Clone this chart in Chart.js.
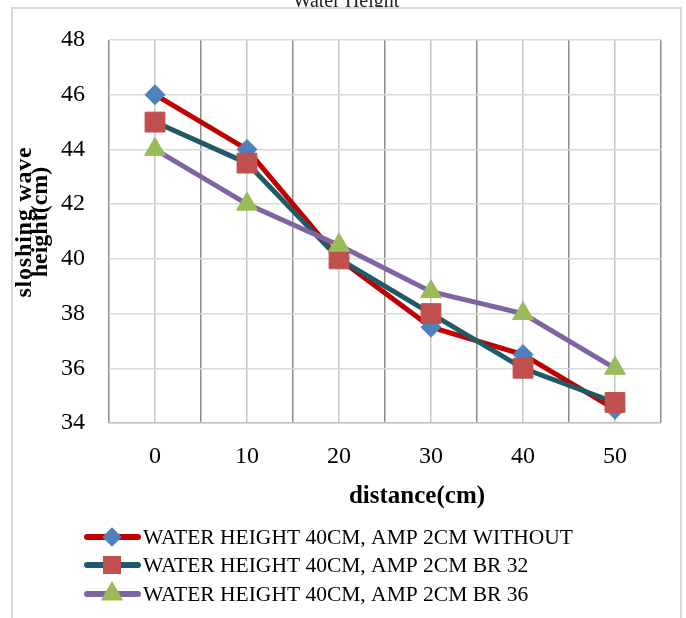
<!DOCTYPE html>
<html>
<head>
<meta charset="utf-8">
<title>Water Height</title>
<script src="https://cdn.jsdelivr.net/npm/chart.js@4.4.1/dist/chart.umd.min.js"></script>
<style>
    html, body { margin: 0; padding: 0; background: #fff; }
    canvas { display: block; }
</style>
</head>
<body>
<canvas id="sloshing-chart" width="686" height="618"></canvas>
<script>
'use strict';

// data
var distances = [ 0, 10, 20, 30, 40, 50 ];
var heightWithout = [ 46, 44, 40, 37.5, 36.5, 34.5 ];
var heightBr32 = [ 45, 43.5, 40, 38, 36, 34.75 ];
var heightBr36 = [ 44, 42, 40.5, 38.8, 38, 36 ];
var seriesLabels = [
    'WATER HEIGHT 40CM, AMP 2CM WITHOUT',
    'WATER HEIGHT 40CM, AMP 2CM BR 32',
    'WATER HEIGHT 40CM, AMP 2CM BR 36'
];
var yTicks = { min: 34, max: 48, step: 2 };

var serif = "'Liberation Serif', 'Times New Roman', serif";

function toPoints( values ) {
    var points = [];
    for( var i = 0; i < distances.length; i++ ) {
        points.push( { x: distances[ i ], y: values[ i ] } );
    }
    return points;
}

// frame, cut-off title, axis titles and the legend
var decorPlugin = {
    id: 'decor',
    beforeDraw: function( chart ) {
        var ctx = chart.ctx;
        ctx.save();
        ctx.fillStyle = '#ffffff';
        ctx.fillRect( 0, 0, chart.width, chart.height );

        // title is cut off by the top of the picture
        ctx.save();
        ctx.beginPath();
        ctx.rect( 0, 0, chart.width, 7 );
        ctx.clip();
        ctx.fillStyle = '#222';
        ctx.font = '20px ' + serif;
        ctx.textAlign = 'center';
        ctx.textBaseline = 'alphabetic';
        ctx.fillText( 'Water Height', 346, 7 );
        ctx.restore();

        // chart frame
        ctx.strokeStyle = '#d9d9d9';
        ctx.lineWidth = 2;
        ctx.strokeRect( 12, 8, 669, 700 );
        ctx.restore();
    },
    afterDraw: function( chart ) {
        var ctx = chart.ctx;
        ctx.save();
        ctx.fillStyle = '#000';

        // x axis title
        ctx.font = 'bold 25px ' + serif;
        ctx.textAlign = 'center';
        ctx.textBaseline = 'middle';
        ctx.fillText( 'distance(cm)', 417, 497 );

        // y axis title, two tight lines
        ctx.save();
        ctx.font = 'bold 24px ' + serif;
        ctx.translate( 33, 222 );
        ctx.rotate( -Math.PI / 2 );
        ctx.letterSpacing = '0.8px';
        ctx.fillText( 'sloshing wave', 0, -8 );
        ctx.letterSpacing = '0px';
        ctx.fillText( 'height(cm)', 0, 8 );
        ctx.restore();

        // legend: line with marker in the middle
        var rows = [ 537, 565, 594 ];
        ctx.font = '21.5px ' + serif;
        ctx.textAlign = 'left';
        chart.data.datasets.forEach( function( ds, i ) {
            var y = rows[ i ];
            ctx.strokeStyle = ds.borderColor;
            ctx.lineWidth = 6;
            ctx.lineCap = 'round';
            ctx.beginPath();
            ctx.moveTo( 87, y );
            ctx.lineTo( 138, y );
            ctx.stroke();
            ctx.fillStyle = ds.pointBackgroundColor;
            ctx.strokeStyle = ds.pointBorderColor;
            Chart.helpers.drawPoint( ctx, {
                pointStyle: ds.pointStyle,
                radius: ds.legendRadius,
                rotation: 0,
                borderWidth: 1
            }, 112, y );
            ctx.fillStyle = '#000';
            ctx.fillText( ds.label, 143, y + 1 );
        });
        ctx.restore();
    }
};

var ctx = document.getElementById( 'sloshing-chart' ).getContext( '2d' );
var chart = new Chart( ctx, {
    type: 'line',
    data: {
        datasets: [
            {
                label: seriesLabels[ 0 ],
                data: toPoints( heightWithout ),
                borderColor: '#c00000',
                borderWidth: 5,
                pointStyle: 'rectRot',
                pointRadius: 10,
                legendRadius: 5.5,
                pointBackgroundColor: '#4f81bd',
                pointBorderColor: '#4f81bd',
                pointBorderWidth: 1,
                order: 3
            },
            {
                label: seriesLabels[ 1 ],
                data: toPoints( heightBr32 ),
                borderColor: '#215a67',
                borderWidth: 5,
                pointStyle: 'rect',
                pointRadius: 14,
                legendRadius: 8.5,
                pointBackgroundColor: '#c0504d',
                pointBorderColor: '#c0504d',
                pointBorderWidth: 1,
                order: 2
            },
            {
                label: seriesLabels[ 2 ],
                data: toPoints( heightBr36 ),
                borderColor: '#8064a2',
                borderWidth: 5,
                pointStyle: 'triangle',
                pointRadius: 12,
                legendRadius: 7,
                pointBackgroundColor: '#9bbb59',
                pointBorderColor: '#9bbb59',
                pointBorderWidth: 1,
                order: 1
            }
        ]
    },
    options: {
        responsive: false,
        animation: false,
        layout: {
            padding: { left: 12, right: 25, top: 40, bottom: 0 }
        },
        plugins: {
            legend: { display: false },
            title: { display: false },
            tooltip: { enabled: false }
        },
        elements: {
            line: { tension: 0 },
            point: { hoverRadius: 10 }
        },
        scales: {
            x: {
                type: 'linear',
                min: -5,
                max: 55,
                afterFit: function( scale ) { scale.height = 618 - 423; },
                afterBuildTicks: function( scale ) {
                    var ticks = [];
                    for( var v = -5; v <= 55; v += 5 ) ticks.push( { value: v } );
                    scale.ticks = ticks;
                },
                ticks: {
                    autoSkip: false,
                    maxRotation: 0,
                    padding: 19,
                    color: '#000',
                    font: { family: serif, size: 24 },
                    callback: function( value ) {
                        return distances.indexOf( value ) >= 0 ? String( value ) : '';
                    }
                },
                grid: {
                    drawTicks: false,
                    lineWidth: 1.5,
                    color: function( c ) {
                        if( !c.tick ) return '#8c8c8c';
                        return distances.indexOf( c.tick.value ) >= 0 ? '#c6c6c6' : '#8c8c8c';
                    }
                },
                border: { display: true, color: '#bfbfbf', width: 1.5 }
            },
            y: {
                min: yTicks.min,
                max: yTicks.max,
                afterFit: function( scale ) { scale.width = 109 - 12; },
                ticks: {
                    stepSize: yTicks.step,
                    padding: 24,
                    color: '#000',
                    font: { family: serif, size: 24 }
                },
                grid: {
                    drawTicks: false,
                    lineWidth: 1.5,
                    color: '#d9d9d9'
                },
                border: { display: false }
            }
        }
    },
    plugins: [ decorPlugin ]
});
</script>
</body>
</html>
